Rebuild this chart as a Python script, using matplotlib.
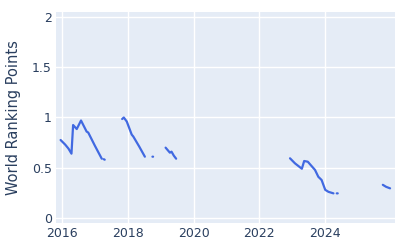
import numpy as np
import matplotlib
matplotlib.use("Agg")
import matplotlib.pyplot as plt

nan = np.nan
# decimal years and World Ranking Points (NaN marks gaps)
years = [2015.96, 2016.10, 2016.20, 2016.29, 2016.34, 2016.45, 2016.58, 2016.75, 2016.80, 2017.00, 2017.21, nan,
         2017.27, 2017.30, nan,
         2017.83, 2017.88, 2017.97, 2018.12, 2018.17, 2018.35, 2018.52, nan,
         2018.75, 2018.77, nan,
         2019.15, 2019.28, 2019.33, 2019.40, 2019.47, nan,
         2022.93, 2023.08, 2023.29, 2023.36, 2023.47, 2023.69, 2023.79, 2023.89, 2024.00, 2024.10, 2024.25, nan,
         2024.35, 2024.38, nan,
         2025.75, 2025.85, 2025.97]
points = [0.776, 0.73, 0.69, 0.64, 0.925, 0.885, 0.97, 0.86, 0.85, 0.72, 0.59, nan,
          0.585, 0.58, nan,
          0.985, 1.0, 0.96, 0.83, 0.81, 0.71, 0.61, nan,
          0.61, 0.61, nan,
          0.70, 0.65, 0.66, 0.62, 0.59, nan,
          0.594, 0.544, 0.49, 0.567, 0.56, 0.478, 0.41, 0.378, 0.28, 0.26, 0.245, nan,
          0.245, 0.245, nan,
          0.33, 0.31, 0.295]
xticks = [2016, 2018, 2020, 2022, 2024]
yticks = [0, 0.5, 1, 1.5, 2]
ytick_labels = ["0", "0.5", "1", "1.5", "2"]

fig = plt.figure(figsize=(4, 2.5), dpi=100)
ax = fig.add_axes([0.14, 0.108, 0.8475, 0.844])
ax.set_facecolor("#E5ECF6")
ax.plot(years, points, color="#4169E1", linewidth=1.6, solid_capstyle="round")
ax.set_xlim(2015.82, 2026.12)
ax.set_ylim(-0.05, 2.05)
ax.set_xticks(xticks)
ax.set_xticklabels([str(t) for t in xticks])
ax.set_yticks(yticks)
ax.set_yticklabels(ytick_labels)
ax.grid(True, color="white", linewidth=1)
ax.set_axisbelow(True)
for s in ax.spines.values():
    s.set_visible(False)
ax.tick_params(length=0, labelsize=9, colors="#2a3f5f", pad=3)
ax.set_ylabel("World Ranking Points", fontsize=10.5, color="#2a3f5f", labelpad=8)
fig.savefig("out.png", dpi=100)
